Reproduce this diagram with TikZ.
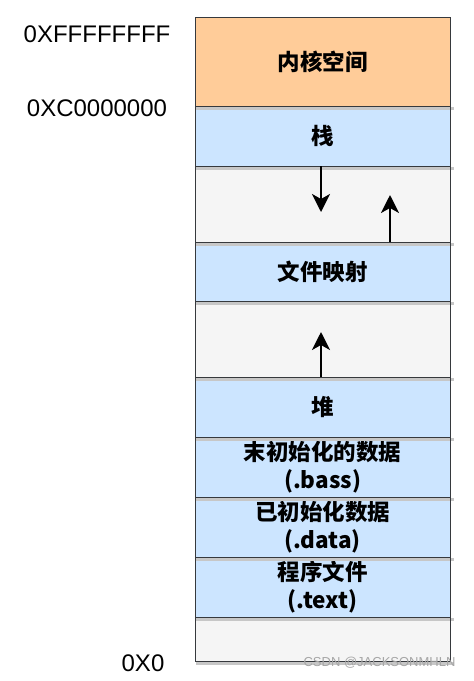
\documentclass[tikz,border=0pt]{standalone}
\usepackage{fontspec}
\setmainfont{Liberation Sans}
\newfontfamily\cjk{Noto Sans CJK SC}
\usetikzlibrary{arrows.meta, positioning}
\definecolor{KernelFill}{HTML}{FFCC99}
\definecolor{SegFill}{HTML}{CCE5FF}
\definecolor{GapFill}{HTML}{F5F5F5}
\definecolor{EdgeGray}{HTML}{36393D}

\begin{document}
\begin{tikzpicture}[x=1pt,y=-1pt,
        seg/.style={draw=EdgeGray,line width=1pt,fill=SegFill,
                    minimum width=255pt,minimum height=60pt,
                    inner sep=0pt,outer sep=0pt,align=center,
                    font=\cjk\bfseries\fontsize{22.5}{28}\selectfont},
        gap/.style={seg,fill=GapFill,minimum height=76pt},
        addr/.style={font=\fontsize{24}{28}\selectfont},
        shade/.style={black!22,line width=2.5pt},
        arr/.style={line width=2pt,
                    arrows={-Stealth[length=18pt,width=18pt,inset=5pt]}}
      ]
        \useasboundingbox (0,0) rectangle (474,681);
        % memory column, top to bottom
        \node[seg,fill=KernelFill,minimum height=89pt,anchor=north west]
          (kern) at (195,17) {内核空间};
        \node[seg,below=0pt of kern] (stack) {栈};
        \node[gap,below=0pt of stack] (gapa) {};
        \node[seg,minimum height=59pt,below=0pt of gapa] (mmap) {文件映射};
        \node[gap,below=0pt of mmap] (gapb) {};
        \node[seg,below=0pt of gapb] (heap) {堆};
        \node[seg,below=0pt of heap] (bss) {末初始化的数据\\(.bass)};
        \node[seg,below=0pt of bss] (data) {已初始化数据\\(.data)};
        \node[seg,below=0pt of data] (text) {程序文件\\(.text)};
        \node[gap,minimum height=44pt,below=0pt of text] (gapc) {};
        % shadows under the edges
        \foreach \b in {kern,stack,gapa,mmap,gapb,heap,bss,data,text,gapc}
          \draw[shade] ([shift={(1,2.5)}]\b.south west) -- ([shift={(4,2.5)}]\b.south east);
        \foreach \b in {kern,stack,gapa,mmap,gapb,heap,bss,data,text,gapc}
          \draw[EdgeGray,line width=1pt] (\b.north west) rectangle (\b.south east);
        % growth arrows
        \coordinate (stkend) at (321,212);
        \coordinate (mapend) at (390,195);
        \coordinate (hepend) at (321,332);
        \draw[arr] (stack.south -| stkend) -- (stkend);
        \draw[arr] (mmap.north -| mapend) -- (mapend);
        \draw[arr] (heap.north -| hepend) -- (hepend);
        % addresses
        \node[addr] (hi) at (97,34) {0XFFFFFFFF};
        \node[addr] (kbase) at (97,108) {0XC0000000};
        \node[addr] (lo) at (143,663) {0X0};
        \node[font=\fontsize{13}{15}\selectfont,text=black!35,anchor=east]
          (mark) at (459,663) {CSDN @JACKSONMHLN};
      \end{tikzpicture}
\end{document}
